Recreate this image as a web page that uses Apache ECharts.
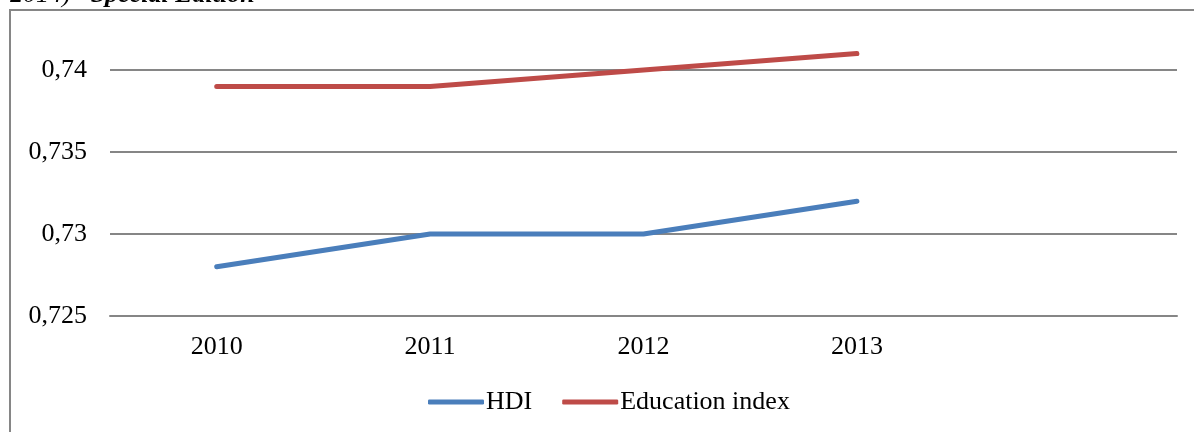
<!DOCTYPE html>
<html><head><meta charset="utf-8">
<script src="https://cdn.jsdelivr.net/npm/echarts@6/dist/echarts.min.js"></script>
<style>html,body{margin:0;padding:0;background:#fff}#c{width:1194px;height:432px}</style>
</head><body><div id="c"></div>
<script>
const categories = ['2010', '2011', '2012', '2013', ''];
const hdi = [0.728, 0.730, 0.730, 0.732];
const educationIndex = [0.739, 0.739, 0.740, 0.741];
const seriesNames = ['HDI', 'Education index'];
const yMin = 0.725, yMax = 0.74, yStep = 0.005;

const font = "'Liberation Serif','Times New Roman',serif";
const chart = echarts.init(document.getElementById('c'), null, {renderer: 'canvas'});
chart.setOption({
  animation: false,
  backgroundColor: '#fff',
  graphic: [
    {type: 'rect', shape: {x: 10, y: 10, width: 1200, height: 440}, style: {fill: 'none', stroke: '#868686', lineWidth: 2}, z: 0},
    {type: 'text', x: 10, y: -5, style: {
      text: '{a|2014)}{s| }{b|Special Edition}',
      verticalAlign: 'middle',
      rich: {
        a: {fontFamily: font, fontSize: 26, fontStyle: 'italic', fill: '#000'},
        s: {fontFamily: font, fontSize: 26, width: 20},
        b: {fontFamily: font, fontSize: 26, fontStyle: 'italic', fontWeight: 'bold', fill: '#000'}
      }
    }}
  ],
  grid: {left: 110, right: 17, top: 70, bottom: 116, containLabel: false},
  xAxis: {
    type: 'category', data: categories, boundaryGap: true,
    axisLine: {show: true, lineStyle: {color: '#868686', width: 2}},
    axisTick: {show: false},
    axisLabel: {fontFamily: font, fontSize: 26, color: '#000', margin: 18, interval: 0}
  },
  yAxis: {
    type: 'value', min: yMin, max: yMax, interval: yStep,
    axisLine: {show: false}, axisTick: {show: false},
    splitLine: {lineStyle: {color: '#868686', width: 2}},
    axisLabel: {fontFamily: font, fontSize: 26, color: '#000', margin: 23,
      formatter: v => parseFloat(v.toFixed(4)).toString().replace('.', ',')}
  },
  legend: {
    top: 389, left: 428, padding: 0, itemGap: 30, itemWidth: 56, itemHeight: 5,
    icon: 'roundRect',
    textStyle: {fontFamily: font, fontSize: 26, color: '#000', padding: [0, 0, 0, -3]},
    data: seriesNames
  },
  series: [
    {name: seriesNames[0], type: 'line', data: hdi, showSymbol: false, symbol: 'none', clip: false,
      lineStyle: {color: '#4a7ebb', width: 5, cap: 'round'}, itemStyle: {color: '#4a7ebb'}},
    {name: seriesNames[1], type: 'line', data: educationIndex, showSymbol: false, symbol: 'none', clip: false,
      lineStyle: {color: '#be4b48', width: 5, cap: 'round'}, itemStyle: {color: '#be4b48'}}
  ]
});
</script></body></html>
